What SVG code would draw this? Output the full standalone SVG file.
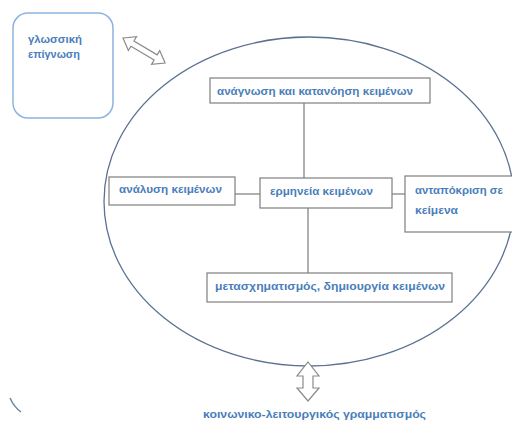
<svg xmlns="http://www.w3.org/2000/svg" width="512" height="421" viewBox="0 0 512 421">
<style>
.box{fill:#ffffff;stroke:#7f7f7f;stroke-width:1.2}
.t{font-family:"Liberation Sans",Arial,sans-serif;font-size:11px;fill:#4a7ebb;font-weight:bold}
.ln{stroke:#6f6f6f;stroke-width:1.1;fill:none}
.arr{fill:#ffffff;stroke:#8a8a8a;stroke-width:1.2;stroke-linejoin:miter}
</style>
<rect width="512" height="421" fill="#ffffff"/>
<g id="ellipse">
<ellipse cx="309" cy="201.5" rx="205" ry="164.5" fill="none" stroke="#5b7193" stroke-width="1.3"/>
</g>
<g id="awareness">
<rect x="13" y="13" width="100" height="105" rx="15" ry="15" fill="#ffffff" stroke="#8db3e2" stroke-width="1.5"/>
<text class="t" x="28" y="43" textLength="54" lengthAdjust="spacingAndGlyphs">γλωσσική</text>
<text class="t" x="28" y="58" textLength="52" lengthAdjust="spacingAndGlyphs">επίγνωση</text>
</g>
<g id="connectors">
<path class="ln" d="M304 103V178"/>
<path class="ln" d="M235 194H260"/>
<path class="ln" d="M392 194H405"/>
<path class="ln" d="M308 208V273"/>
<path class="arr" transform="translate(123,38) rotate(30.8)" d="M0 0L11 -8V-3H38V-8L49 0L38 8V3H11V8Z"/>
<path class="arr" d="M308 362L319 376H313V388H319L308 401L297 388H303V376H297Z"/>
<path d="M10 398Q14 407 21 412" fill="none" stroke="#6d85a8" stroke-width="1.5"/>
</g>
<g id="reading">
<rect class="box" x="210" y="78" width="220" height="25"/>
<text class="t" x="217" y="95" textLength="196" lengthAdjust="spacingAndGlyphs">ανάγνωση και κατανόηση κειμένων</text>
</g>
<g id="analysis">
<rect class="box" x="109" y="177" width="126" height="28"/>
<text class="t" x="119" y="193" textLength="103" lengthAdjust="spacingAndGlyphs">ανάλυση κειμένων</text>
</g>
<g id="interpretation">
<rect class="box" x="260" y="178" width="132" height="30"/>
<text class="t" x="270" y="195" textLength="103" lengthAdjust="spacingAndGlyphs">ερμηνεία κειμένων</text>
</g>
<g id="response">
<rect class="box" x="405" y="176" width="112" height="56"/>
<text class="t" x="415" y="194" textLength="88" lengthAdjust="spacingAndGlyphs">ανταπόκριση σε</text>
<text class="t" x="415" y="214" textLength="43" lengthAdjust="spacingAndGlyphs">κείμενα</text>
</g>
<g id="transformation">
<rect class="box" x="207" y="273" width="245" height="29"/>
<text class="t" x="215" y="290" textLength="230" lengthAdjust="spacingAndGlyphs">μετασχηματισμός, δημιουργία κειμένων</text>
</g>
<g id="literacy">
<text class="t" x="203" y="418" textLength="223" lengthAdjust="spacingAndGlyphs">κοινωνικο-λειτουργικός γραμματισμός</text>
</g>
</svg>
